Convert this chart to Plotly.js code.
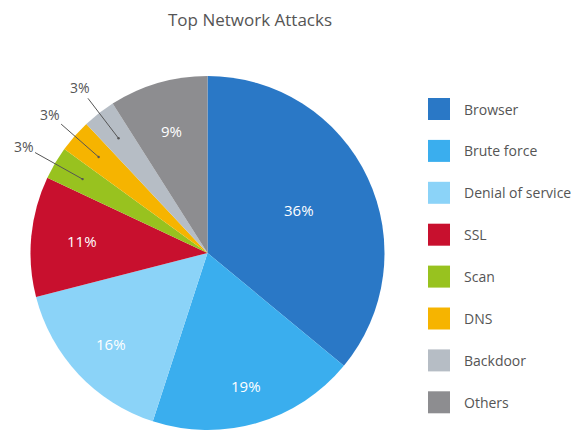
<!DOCTYPE html>
<html><head><meta charset="utf-8">
<script src="https://cdn.plot.ly/plotly-3.0.1.min.js"></script>
<style>html,body{margin:0;padding:0;background:#fff}</style>
</head><body><div id="chart" style="width:571px;height:432px"></div>
<script>
const labels = ["Browser","Brute force","Denial of service","SSL","Scan","DNS","Backdoor","Others"];
const values = [36,19,16,11,3,3,3,9];
const colors = ["#2a78c6","#3aaeee","#8bd3f8","#c8102e","#98c21f","#f6b400","#b6bdc5","#8d8d90"];
const outsideLabelOffsets = {"Scan":[-59,-33],"DNS":[-49,-43],"Backdoor":[-39,-51]};
const insideRadiusFrac = {"Browser":0.57,"Brute force":0.78,"Denial of service":0.75,"SSL":0.71,"Others":0.72};

const W = 571, H = 432;
const cx = 207.5, cy = 253, R = 177;
const textColor = "#555555";
const font = "Open Sans, Noto Sans, sans-serif";

const trace = {
  type: "pie",
  labels: labels,
  values: values,
  sort: false,
  direction: "clockwise",
  rotation: 0,
  marker: {colors: colors, line: {width: 0}},
  textinfo: "none",
  hoverinfo: "label+percent",
  domain: {x: [(cx - R) / W, (cx + R) / W], y: [1 - (cy + R) / H, 1 - (cy - R) / H]},
  showlegend: false
};

const total = values.reduce((a, b) => a + b, 0);
const annotations = [];
const shapes = [];
let cum = 0;
values.forEach((v, i) => {
  const mid = (cum + v / 2) / total * 2 * Math.PI;
  cum += v;
  const pct = Math.round(v / total * 100) + "%";
  const off = outsideLabelOffsets[labels[i]];
  if (off) {
    const r = 0.82 * R;
    const px = cx + r * Math.sin(mid);
    const py = cy - r * Math.cos(mid);
    annotations.push({
      x: px / W, y: 1 - py / H, xref: "paper", yref: "paper",
      text: pct, showarrow: true, arrowhead: 6, arrowsize: 0.6, arrowwidth: 1,
      arrowcolor: "#555555", ax: off[0], ay: off[1], standoff: 0,
      font: {size: 14, color: textColor, family: font}
    });
  } else {
    const r = (insideRadiusFrac[labels[i]] || 0.7) * R;
    const px = cx + r * Math.sin(mid);
    const py = cy - r * Math.cos(mid);
    annotations.push({
      x: px / W, y: 1 - py / H, xref: "paper", yref: "paper",
      xanchor: "center", yanchor: "middle", showarrow: false, text: pct,
      font: {size: 15, color: "#ffffff", family: font}
    });
  }
});

// custom legend
const legX0 = 428, legSize = 22, legY0 = 109, legStep = 41.9, legTextX = 462;
labels.forEach((lab, i) => {
  const yc = legY0 + i * legStep;
  shapes.push({
    type: "rect", xref: "paper", yref: "paper",
    x0: legX0 / W, x1: (legX0 + legSize) / W,
    y0: 1 - (yc + legSize / 2) / H, y1: 1 - (yc - legSize / 2) / H,
    fillcolor: colors[i], line: {width: 0}
  });
  annotations.push({
    x: legTextX / W, y: 1 - yc / H, xref: "paper", yref: "paper",
    xanchor: "left", yanchor: "middle", showarrow: false, text: lab,
    font: {size: 14, color: textColor, family: font}
  });
});

const layout = {
  width: W, height: H,
  margin: {l: 0, r: 0, t: 0, b: 0},
  paper_bgcolor: "#ffffff",
  title: {text: "Top Network Attacks", x: 250 / W, xanchor: "center", y: 1 - 20 / H, yanchor: "middle",
          font: {size: 17, color: textColor, family: font}},
  annotations: annotations,
  shapes: shapes,
  showlegend: false
};

Plotly.newPlot("chart", [trace], layout, {displayModeBar: false, staticPlot: true});
</script></body></html>
